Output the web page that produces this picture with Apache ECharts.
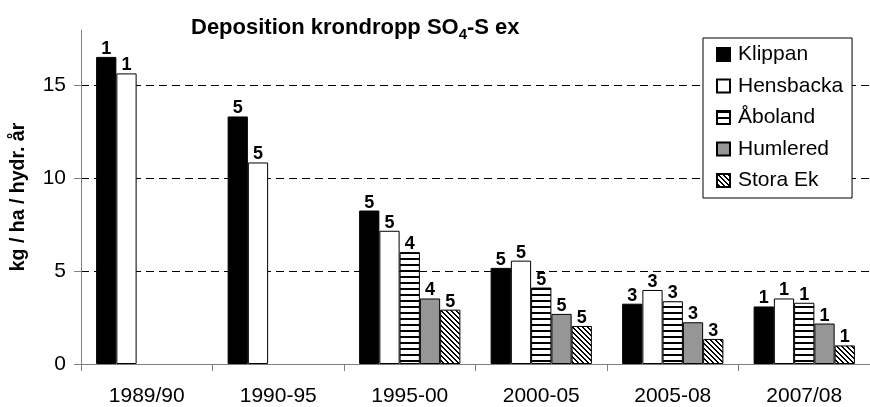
<!DOCTYPE html>
<html>
<head>
<meta charset="utf-8">
<script src="https://cdn.jsdelivr.net/npm/echarts@6/dist/echarts.min.js"></script>
<style>
  html, body { margin: 0; padding: 0; background: #fff; }
  #chart { width: 870px; height: 407px; }
</style>
</head>
<body>
<div id="chart"></div>
<script>
var periods = ['1989/90', '1990-95', '1995-00', '2000-05', '2005-08', '2007/08'];
var seriesNames = ['Klippan', 'Hensbacka', 'Åboland', 'Humlered', 'Stora Ek'];

// kg / ha / hydr. år
var klippan   = [16.55, 13.34, 8.27, 5.18, 3.25, 3.10];
var hensbacka = [15.66, 10.86, 7.18, 5.57, 3.99, 3.53];
var aboland   = [null,  null,  6.03, 4.12, 3.38, 3.30];
var humlered  = [null,  null,  3.53, 2.70, 2.25, 2.18];
var storaEk   = [null,  null,  2.93, 2.05, 1.35, 1.00];

// numbers printed above the bars
var klippanN   = [1, 5, 5, 5, 3, 1];
var hensbackaN = [1, 5, 5, 5, 3, 1];
var abolandN   = [null, null, 4, 5, 3, 1];
var humleredN  = [null, null, 4, 5, 3, 1];
var storaEkN   = [null, null, 5, 5, 3, 1];

var yTicks = [0, 5, 10, 15];

function hStripes() {
    var c = document.createElement('canvas');
    c.width = 6; c.height = 6;
    var ctx = c.getContext('2d');
    ctx.fillStyle = '#fff';
    ctx.fillRect(0, 0, 6, 6);
    ctx.fillStyle = '#000';
    ctx.fillRect(0, 0, 6, 2);
    return c;
}

function dStripes() {
    var n = 5;
    var c = document.createElement('canvas');
    c.width = n; c.height = n;
    var ctx = c.getContext('2d');
    ctx.fillStyle = '#fff';
    ctx.fillRect(0, 0, n, n);
    ctx.fillStyle = '#000';
    for (var x = 0; x < n; x++) {
        for (var y = 0; y < n; y++) {
            if (((x - y) % n + n) % n < 2) ctx.fillRect(x, y, 1, 1);
        }
    }
    return c;
}

var fills = ['#000000', '#ffffff', {image: hStripes(), repeat: 'repeat'}, '#969696', {image: dStripes(), repeat: 'repeat'}];
var values = [klippan, hensbacka, aboland, humlered, storaEk];
var counts = [klippanN, hensbackaN, abolandN, humleredN, storaEkN];

var chart = echarts.init(document.getElementById('chart'), null, {renderer: 'canvas'});

var series = [];
for (var i = 0; i < seriesNames.length; i++) {
    (function (k) {
        series.push({
            name: seriesNames[k],
            type: 'bar',
            data: values[k],
            barGap: '0%',
            barCategoryGap: '23%',
            itemStyle: {color: fills[k], borderColor: '#000', borderWidth: 1},
            label: {
                show: true,
                position: 'top',
                distance: -1,
                fontFamily: 'Liberation Sans',
                fontSize: 18,
                fontWeight: 'bold',
                color: '#000',
                formatter: function (p) {
                    var v = counts[k][p.dataIndex];
                    return v == null ? '' : String(v);
                }
            }
        });
    })(i);
}

var option = {
    animation: false,
    backgroundColor: '#fff',
    textStyle: {fontFamily: 'Liberation Sans'},
    title: {
        left: 191,
        top: 14,
        padding: 0,
        text: '{a|Deposition krondropp SO}{b|4}{a|-S ex}',
        textStyle: {
            rich: {
                a: {fontFamily: 'Liberation Sans', fontSize: 22, fontWeight: 'bold', color: '#000', lineHeight: 25, verticalAlign: 'bottom'},
                b: {fontFamily: 'Liberation Sans', fontSize: 15, fontWeight: 'bold', color: '#000', lineHeight: 17, verticalAlign: 'bottom', padding: [0, 0, -3, 0]}
            }
        }
    },
    legend: {
        orient: 'vertical',
        left: 703,
        top: 38,
        padding: [6, 9, 7, 13],
        itemGap: 10.5,
        itemWidth: 13,
        itemHeight: 13,
        icon: 'rect',
        backgroundColor: '#fff',
        borderColor: '#000',
        borderWidth: 1,
        borderRadius: 0,
        data: seriesNames,
        textStyle: {fontFamily: 'Liberation Sans', fontSize: 21, color: '#000', lineHeight: 21, padding: [0, 0, 0, 3]}
    },
    grid: {left: 81, right: -7, top: 30, bottom: 42, containLabel: false},
    xAxis: {
        type: 'category',
        data: periods,
        axisLine: {lineStyle: {color: '#808080', width: 1}},
        axisTick: {show: true, length: 7, lineStyle: {color: '#808080'}},
        axisLabel: {fontFamily: 'Liberation Sans', fontSize: 21, color: '#000', margin: 22}
    },
    yAxis: {
        type: 'value',
        min: yTicks[0],
        max: 18,
        interval: yTicks[1] - yTicks[0],
        name: 'kg / ha / hydr. år',
        nameLocation: 'middle',
        nameRotate: 90,
        nameGap: 52,
        nameTextStyle: {fontFamily: 'Liberation Sans', fontSize: 19.5, fontWeight: 'bold', color: '#000'},
        axisLine: {show: true, lineStyle: {color: '#808080', width: 1}},
        axisTick: {show: true, length: 7, lineStyle: {color: '#808080'}},
        axisLabel: {
            fontFamily: 'Liberation Sans', fontSize: 21, color: '#000', margin: 15,
            showMaxLabel: false,
            formatter: function (v) { return yTicks.indexOf(v) >= 0 ? String(v) : ''; }
        },
        splitLine: {
            show: true, showMinLine: false, showMaxLine: false,
            lineStyle: {color: '#000', width: 1, type: [8, 5]}
        }
    },
    series: series
};

chart.setOption(option);
</script>
</body>
</html>
